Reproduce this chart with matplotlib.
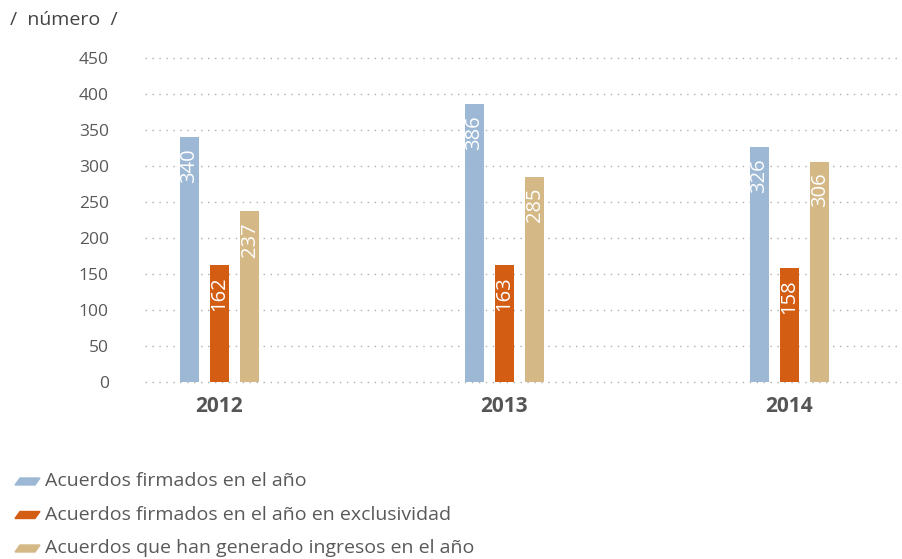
import matplotlib
matplotlib.use("Agg")
import matplotlib.pyplot as plt
from matplotlib.patches import Polygon
import numpy as np

# ── Data ──────────────────────────────────────────────────────────────────────
years = ["2012", "2013", "2014"]
series_names = [
    "Acuerdos firmados en el año",
    "Acuerdos firmados en el año en exclusividad",
    "Acuerdos que han generado ingresos en el año",
]
firmados = [340, 386, 326]
exclusividad = [162, 163, 158]
ingresos = [237, 285, 306]
y_ticks = [0, 50, 100, 150, 200, 250, 300, 350, 400, 450]

# ── Style ─────────────────────────────────────────────────────────────────────
COLORS = ["#9DB8D5", "#D45D14", "#D4B886"]
TEXT_GRAY = "#595959"
GRID_GRAY = "#AFAFAF"
FONT = ["Open Sans", "DejaVu Sans"]
BAR_W = 0.067
STEP = 0.106

plt.rcParams["font.family"] = FONT

fig = plt.figure(figsize=(9.03, 5.59), dpi=100)
ax = fig.add_axes([0.1606, 0.3166, 0.836, 0.5796])

x = np.arange(len(years))
for i, (vals, col) in enumerate(zip([firmados, exclusividad, ingresos], COLORS)):
    pos = x + (i - 1) * STEP
    bars = ax.bar(pos, vals, width=BAR_W, color=col, zorder=3)
    for b, v in zip(bars, vals):
        ax.annotate(str(v), (b.get_x() + b.get_width() / 2, v),
                    xytext=(0, -8), textcoords="offset points",
                    rotation=90, ha="center", va="top",
                    color="white", fontsize=14.5, zorder=4)

ax.set_xlim(-0.261, 2.388)
ax.set_ylim(0, 450)
ax.set_yticks(y_ticks)
ax.set_yticklabels([str(t) for t in y_ticks], fontsize=12.5, color=TEXT_GRAY)
ax.set_xticks(x)
ax.set_xticklabels(years, fontsize=15, fontweight="bold", color="#555555")
ax.tick_params(axis="y", length=0, pad=26)
ax.tick_params(axis="x", length=0, pad=10)
for t in ax.get_yticklabels():
    t.set_horizontalalignment("right")

for t in y_ticks:
    ax.axhline(t, color=GRID_GRAY, linestyle=(0, (1, 4)), linewidth=1,
               zorder=1, clip_on=False)
for s in ax.spines.values():
    s.set_visible(False)

fig.text(10 / 903, 1 - 20 / 559, "/  número  /", fontsize=14,
         color="#444444", va="center", ha="left")

# ── Legend (parallelogram swatches) ───────────────────────────────────────────
W, H = 903.0, 559.0
for k, (name, col) in enumerate(zip(series_names, COLORS)):
    yc = 481 + k * 33.5
    pts = [(15, yc + 4), (35, yc + 4), (40, yc - 3), (20, yc - 3)]
    fig.patches.append(Polygon([(px / W, 1 - py / H) for px, py in pts],
                               closed=True, color=col,
                               transform=fig.transFigure, figure=fig))
    fig.text(45 / W, 1 - yc / H, name, fontsize=14, color=TEXT_GRAY,
             va="center", ha="left")

fig.savefig("out.png", dpi=100)
